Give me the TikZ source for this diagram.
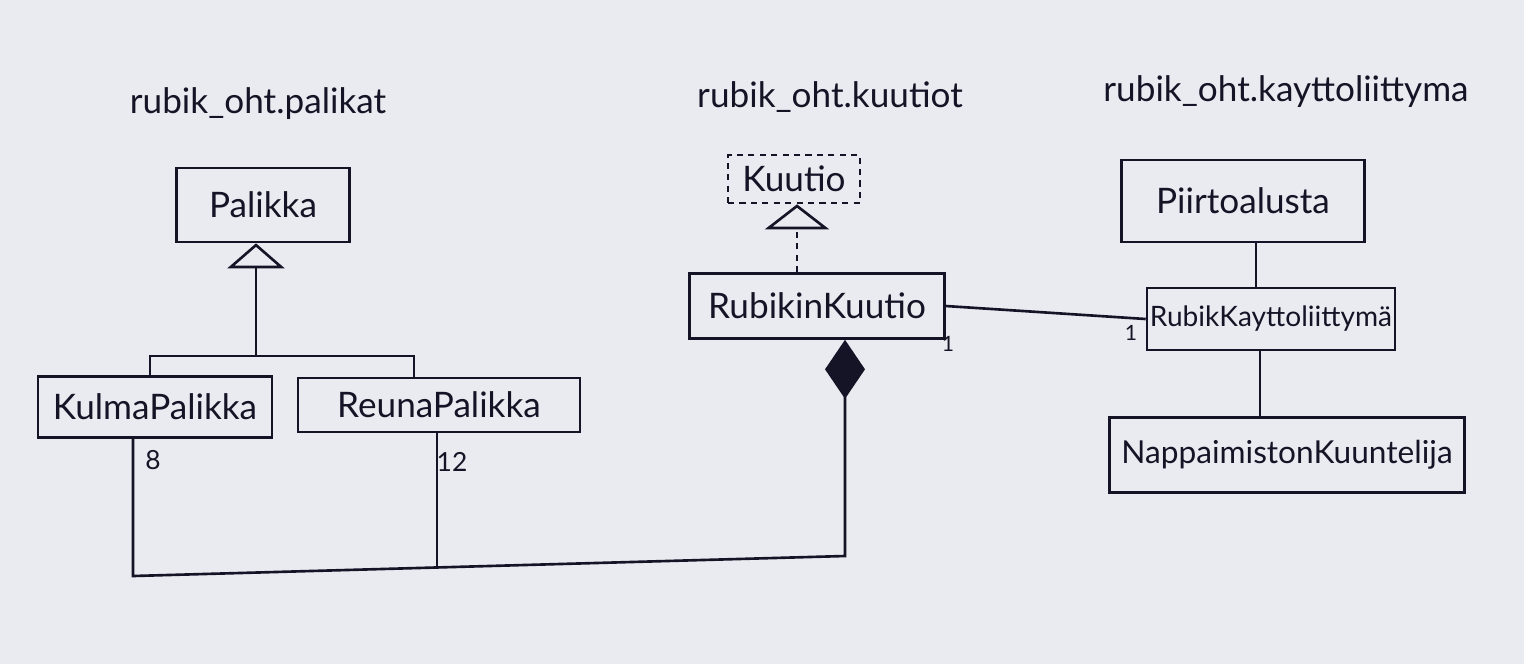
\documentclass[tikz,border=0pt]{standalone}
\usepackage{fontspec}
\setmainfont{Lato}
\usetikzlibrary{shapes.geometric, arrows.meta, positioning, calc}
\definecolor{paper}{RGB}{233,235,240}
\definecolor{ink}{RGB}{20,20,38}

\begin{document}
\begin{tikzpicture}[x=0.02cm, y=-0.02cm,
    classbox/.style={draw=ink, line width=1.5pt, text=ink, inner sep=0pt,
          font=\fontsize{20}{22}\selectfont},
    ifacebox/.style={classbox, dash pattern=on 3.5pt off 3pt},
    pkglabel/.style={text=ink, font=\fontsize{20}{22}\selectfont},
    mult/.style={text=ink, font=\fontsize{15}{17}\selectfont},
    link/.style={draw=ink, line width=1.5pt}]
    % Paper
    \fill[paper] (0,0) rectangle (1524,664);

    % Packages
    \node[pkglabel] (pkgpalikat) at (258,104) {rubik\_oht.palikat};
    \node[pkglabel] (pkgkuutiot) at (830,97) {rubik\_oht.kuutiot};
    \node[pkglabel] (pkgkaytto) at (1286,92) {rubik\_oht.kayttoliittyma};

    % Nodes
    \node[classbox, minimum width=3.46cm, minimum height=1.48cm] (palikka) at (263,205) {Palikka};
    \node[classbox, minimum width=4.68cm, minimum height=1.22cm] (kulma) at (155,407) {KulmaPalikka};
    \node[classbox, minimum width=5.64cm, minimum height=1.08cm] (reuna) at (439,405) {ReunaPalikka};
    \node[ifacebox, minimum width=2.64cm, minimum height=0.96cm] (kuutio) at (794,179) {Kuutio};
    \node[classbox, minimum width=5.1cm, minimum height=1.3cm] (rubikin) at (817,306) {RubikinKuutio};
    \node[classbox, minimum width=4.86cm, minimum height=1.64cm] (piirto) at (1243,201) {Piirtoalusta};
    \node[classbox, minimum width=4.96cm, minimum height=1.24cm,
          font=\fontsize{16}{18}\selectfont] (kaytto) at (1271,319) {RubikKayttoliittymä};
    \node[classbox, minimum width=7.1cm, minimum height=1.5cm,
          font=\fontsize{18}{20}\selectfont] (nappain) at (1287,455) {NappaimistonKuuntelija};

    % Coordinates
    \coordinate (barL) at (150,356);
    \coordinate (barR) at (414,356);
    \coordinate (gen) at (256,356);
    \coordinate (joinL) at (133,576);
    \coordinate (joinM) at (437,568);
    \coordinate (joinR) at (845,556);
    \coordinate (real) at (797,0);
    \coordinate (upper) at (1256,0);
    \coordinate (lower) at (1260,0);

    % Arrows
    \draw[link] (barL |- kulma.north) -- (barL) -- (barR) -- (barR |- reuna.north);
    \draw[link, -{Triangle[open, length=0.5cm, width=1.14cm]}] (gen) -- (gen |- palikka.south);
    \draw[link, -{Diamond[fill=ink, length=1.18cm, width=0.8cm]}]
        (kulma.south -| joinL) -- (joinL) -- (joinR) -- (joinR |- rubikin.south);
    \draw[link] (reuna.south -| joinM) -- (joinM);
    \draw[link, dash pattern=on 3.5pt off 3pt, -{Triangle[open, length=0.5cm, width=1.28cm]}]
        (real |- rubikin.north) -- (real |- kuutio.south);
    \draw[link] (rubikin.east) -- (kaytto.west);
    \draw[link] (upper |- piirto.south) -- (upper |- kaytto.north);
    \draw[link] (lower |- kaytto.south) -- (lower |- nappain.north);

    % Multiplicities
    \node[mult] (m8) at (153,460) {8};
    \node[mult] (m12) at (452,462) {12};
    \node[mult, font=\fontsize{12}{14}\selectfont] (m1a) at (948,344) {1};
    \node[mult, font=\fontsize{12}{14}\selectfont] (m1b) at (1131,333) {1};
\end{tikzpicture}
\end{document}
